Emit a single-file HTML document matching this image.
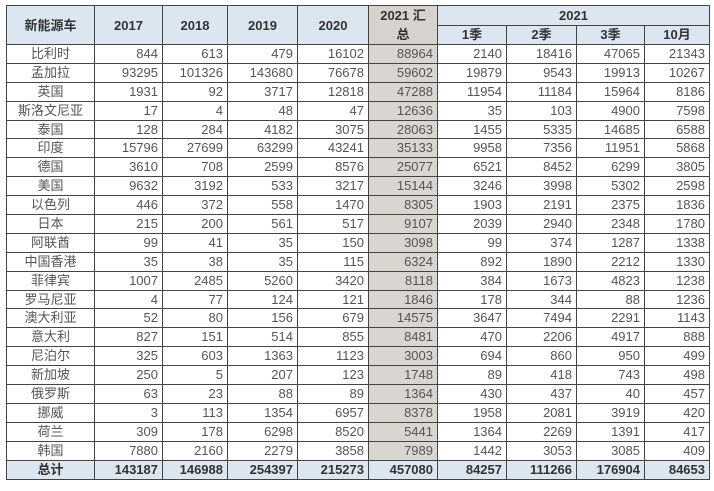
<!DOCTYPE html>
<html><head><meta charset="utf-8"><style>
body{margin:0;background:#fff;width:714px;height:491px;overflow:hidden}
table{position:absolute;left:6px;top:5px;border-collapse:collapse;table-layout:fixed;font-family:"Liberation Sans","Noto Sans CJK SC",sans-serif;font-size:13px;color:#555}
td{border:1px solid #444;padding:0 4px;height:17.9px;line-height:16px;text-align:right;white-space:nowrap;overflow:hidden}
td:first-child{text-align:center}
td.s{background:#d9d6d2}
tr.h td{background:#dce6f1;color:#333;font-weight:bold;text-align:center;height:18.5px;line-height:17px}
tr.h td.s{background:#d6d3cf}
tr.t td{background:#dce6f1;color:#333;font-weight:bold;height:18.5px}
tr.t td.s{background:#dce6f1}
</style></head><body>
<table>
<colgroup><col style="width:88px"><col style="width:68px"><col style="width:65px"><col style="width:70px"><col style="width:71px"><col style="width:69px"><col style="width:69px"><col style="width:70px"><col style="width:68px"><col style="width:65px"></colgroup>
<tr class="h"><td rowspan="2">新能源车</td><td rowspan="2">2017</td><td rowspan="2">2018</td><td rowspan="2">2019</td><td rowspan="2">2020</td><td rowspan="2" class="s" style="line-height:19px;white-space:normal;padding:0 8px">2021 汇总</td><td colspan="4">2021</td></tr>
<tr class="h"><td>1季</td><td>2季</td><td>3季</td><td>10月</td></tr>
<tr><td>比利时</td><td>844</td><td>613</td><td>479</td><td>16102</td><td class="s">88964</td><td>2140</td><td>18416</td><td>47065</td><td>21343</td></tr>
<tr><td>孟加拉</td><td>93295</td><td>101326</td><td>143680</td><td>76678</td><td class="s">59602</td><td>19879</td><td>9543</td><td>19913</td><td>10267</td></tr>
<tr><td>英国</td><td>1931</td><td>92</td><td>3717</td><td>12818</td><td class="s">47288</td><td>11954</td><td>11184</td><td>15964</td><td>8186</td></tr>
<tr><td>斯洛文尼亚</td><td>17</td><td>4</td><td>48</td><td>47</td><td class="s">12636</td><td>35</td><td>103</td><td>4900</td><td>7598</td></tr>
<tr><td>泰国</td><td>128</td><td>284</td><td>4182</td><td>3075</td><td class="s">28063</td><td>1455</td><td>5335</td><td>14685</td><td>6588</td></tr>
<tr><td>印度</td><td>15796</td><td>27699</td><td>63299</td><td>43241</td><td class="s">35133</td><td>9958</td><td>7356</td><td>11951</td><td>5868</td></tr>
<tr><td>德国</td><td>3610</td><td>708</td><td>2599</td><td>8576</td><td class="s">25077</td><td>6521</td><td>8452</td><td>6299</td><td>3805</td></tr>
<tr><td>美国</td><td>9632</td><td>3192</td><td>533</td><td>3217</td><td class="s">15144</td><td>3246</td><td>3998</td><td>5302</td><td>2598</td></tr>
<tr><td>以色列</td><td>446</td><td>372</td><td>558</td><td>1470</td><td class="s">8305</td><td>1903</td><td>2191</td><td>2375</td><td>1836</td></tr>
<tr><td>日本</td><td>215</td><td>200</td><td>561</td><td>517</td><td class="s">9107</td><td>2039</td><td>2940</td><td>2348</td><td>1780</td></tr>
<tr><td>阿联酋</td><td>99</td><td>41</td><td>35</td><td>150</td><td class="s">3098</td><td>99</td><td>374</td><td>1287</td><td>1338</td></tr>
<tr><td>中国香港</td><td>35</td><td>38</td><td>35</td><td>115</td><td class="s">6324</td><td>892</td><td>1890</td><td>2212</td><td>1330</td></tr>
<tr><td>菲律宾</td><td>1007</td><td>2485</td><td>5260</td><td>3420</td><td class="s">8118</td><td>384</td><td>1673</td><td>4823</td><td>1238</td></tr>
<tr><td>罗马尼亚</td><td>4</td><td>77</td><td>124</td><td>121</td><td class="s">1846</td><td>178</td><td>344</td><td>88</td><td>1236</td></tr>
<tr><td>澳大利亚</td><td>52</td><td>80</td><td>156</td><td>679</td><td class="s">14575</td><td>3647</td><td>7494</td><td>2291</td><td>1143</td></tr>
<tr><td>意大利</td><td>827</td><td>151</td><td>514</td><td>855</td><td class="s">8481</td><td>470</td><td>2206</td><td>4917</td><td>888</td></tr>
<tr><td>尼泊尔</td><td>325</td><td>603</td><td>1363</td><td>1123</td><td class="s">3003</td><td>694</td><td>860</td><td>950</td><td>499</td></tr>
<tr><td>新加坡</td><td>250</td><td>5</td><td>207</td><td>123</td><td class="s">1748</td><td>89</td><td>418</td><td>743</td><td>498</td></tr>
<tr><td>俄罗斯</td><td>63</td><td>23</td><td>88</td><td>89</td><td class="s">1364</td><td>430</td><td>437</td><td>40</td><td>457</td></tr>
<tr><td>挪威</td><td>3</td><td>113</td><td>1354</td><td>6957</td><td class="s">8378</td><td>1958</td><td>2081</td><td>3919</td><td>420</td></tr>
<tr><td>荷兰</td><td>309</td><td>178</td><td>6298</td><td>8520</td><td class="s">5441</td><td>1364</td><td>2269</td><td>1391</td><td>417</td></tr>
<tr><td>韩国</td><td>7880</td><td>2160</td><td>2279</td><td>3858</td><td class="s">7989</td><td>1442</td><td>3053</td><td>3085</td><td>409</td></tr>
<tr class="t"><td>总计</td><td>143187</td><td>146988</td><td>254397</td><td>215273</td><td class="s">457080</td><td>84257</td><td>111266</td><td>176904</td><td>84653</td></tr>
</table>
</body></html>
